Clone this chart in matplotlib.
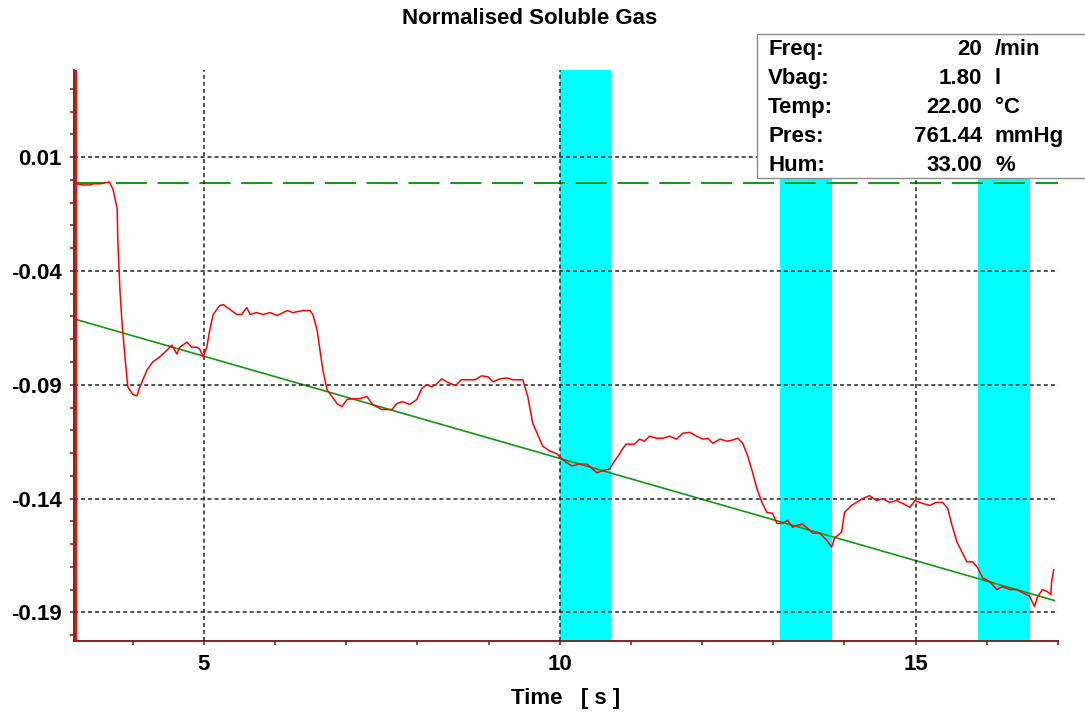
import matplotlib
matplotlib.use("Agg")
import matplotlib.pyplot as plt
from matplotlib.patches import Rectangle
from matplotlib.ticker import FixedLocator, MultipleLocator

plt.rcParams['font.family'] = ['Liberation Sans', 'DejaVu Sans']

# red signal: time [s] and normalised value
sig_t = [3.20, 3.30, 3.40, 3.45, 3.54, 3.60, 3.67, 3.72, 3.78, 3.79,
         3.82, 3.85, 3.89, 3.93, 4.00, 4.06, 4.10, 4.20, 4.28, 4.38,
         4.48, 4.55, 4.62, 4.66, 4.76, 4.83, 4.90, 4.94, 4.99, 5.04,
         5.08, 5.13, 5.22, 5.27, 5.37, 5.46, 5.53, 5.60, 5.65, 5.74,
         5.83, 5.93, 6.03, 6.17, 6.25, 6.39, 6.49, 6.53, 6.59, 6.63,
         6.67, 6.73, 6.80, 6.87, 6.94, 7.01, 7.09, 7.19, 7.29, 7.37,
         7.50, 7.64, 7.71, 7.79, 7.89, 7.99, 8.06, 8.13, 8.20, 8.27,
         8.34, 8.41, 8.53, 8.62, 8.74, 8.81, 8.90, 8.99, 9.06, 9.16,
         9.26, 9.34, 9.48, 9.55, 9.62, 9.68, 9.76, 9.86, 9.96, 10.03,
         10.10, 10.17, 10.28, 10.38, 10.46, 10.52, 10.60, 10.70, 10.77, 10.84,
         10.88, 10.93, 11.05, 11.12, 11.19, 11.26, 11.36, 11.45, 11.54, 11.64,
         11.73, 11.83, 11.92, 12.01, 12.08, 12.15, 12.25, 12.35, 12.43, 12.50,
         12.57, 12.64, 12.71, 12.77, 12.84, 12.91, 12.99, 13.05, 13.13, 13.20,
         13.27, 13.34, 13.41, 13.48, 13.55, 13.65, 13.75, 13.82, 13.86, 13.96,
         14.00, 14.10, 14.17, 14.26, 14.35, 14.45, 14.54, 14.63, 14.73, 14.82,
         14.92, 14.99, 15.10, 15.20, 15.29, 15.38, 15.45, 15.51, 15.58, 15.65,
         15.72, 15.80, 15.87, 15.94, 16.04, 16.14, 16.22, 16.32, 16.42, 16.50,
         16.60, 16.67, 16.71, 16.78, 16.85, 16.90, 16.91, 16.94]
sig_v = [-0.0017, -0.0022, -0.0022, -0.0017, -0.0017, -0.0013, -0.0009, -0.0039, -0.0126, -0.0270,
         -0.0487, -0.0635, -0.0778, -0.0909, -0.0943, -0.0948, -0.0909, -0.0835, -0.0800, -0.0778,
         -0.0748, -0.0726, -0.0765, -0.0735, -0.0713, -0.0735, -0.0735, -0.0743, -0.0778, -0.0735,
         -0.0661, -0.0591, -0.0552, -0.0548, -0.0570, -0.0591, -0.0591, -0.0561, -0.0591, -0.0583,
         -0.0591, -0.0583, -0.0596, -0.0574, -0.0583, -0.0574, -0.0574, -0.0591, -0.0661, -0.0748,
         -0.0835, -0.0922, -0.0952, -0.0983, -0.0996, -0.0965, -0.0961, -0.0961, -0.0952, -0.0987,
         -0.1009, -0.1009, -0.0983, -0.0974, -0.0987, -0.0965, -0.0917, -0.0900, -0.0909, -0.0896,
         -0.0874, -0.0887, -0.0904, -0.0878, -0.0878, -0.0878, -0.0861, -0.0865, -0.0887, -0.0874,
         -0.0870, -0.0878, -0.0878, -0.0952, -0.1070, -0.1113, -0.1170, -0.1191, -0.1204, -0.1226,
         -0.1243, -0.1257, -0.1248, -0.1248, -0.1270, -0.1287, -0.1278, -0.1270, -0.1235, -0.1204,
         -0.1183, -0.1161, -0.1161, -0.1139, -0.1148, -0.1126, -0.1135, -0.1135, -0.1126, -0.1139,
         -0.1113, -0.1109, -0.1126, -0.1139, -0.1135, -0.1157, -0.1139, -0.1148, -0.1143, -0.1135,
         -0.1157, -0.1213, -0.1287, -0.1357, -0.1417, -0.1461, -0.1465, -0.1509, -0.1509, -0.1496,
         -0.1526, -0.1517, -0.1513, -0.1530, -0.1552, -0.1552, -0.1583, -0.1613, -0.1574, -0.1548,
         -0.1461, -0.1430, -0.1417, -0.1400, -0.1387, -0.1409, -0.1400, -0.1417, -0.1409, -0.1422,
         -0.1439, -0.1409, -0.1422, -0.1430, -0.1417, -0.1417, -0.1443, -0.1517, -0.1591, -0.1635,
         -0.1678, -0.1678, -0.1704, -0.1748, -0.1765, -0.1800, -0.1787, -0.1800, -0.1800, -0.1813,
         -0.1830, -0.1874, -0.1835, -0.1800, -0.1809, -0.1822, -0.1765, -0.1713]

# green fitted drift line and baseline level
fit_t = [3.20, 16.95]
fit_v = [-0.0613, -0.1848]
baseline = -0.0014

# cyan marked intervals
bar_start = [10.00, 13.10, 15.88]
bar_end = [10.72, 13.83, 16.61]

yticks = [0.01, -0.04, -0.09, -0.14, -0.19]
xticks = [5, 10, 15]

info_labels = ["Freq:", "Vbag:", "Temp:", "Pres:", "Hum:"]
info_values = ["20", "1.80", "22.00", "761.44", "33.00"]
info_units = ["/min", "l", "°C", "mmHg", "%"]

W, H = 1085, 713
fig = plt.figure(figsize=(W / 100, H / 100), dpi=100)
ax = fig.add_axes([74 / W, 1 - 641 / H, (1058 - 74) / W, (641 - 70) / H])

axis_col = "#8b2020"

for s, e in zip(bar_start, bar_end):
    ax.axvspan(s, e, color="#00ffff", lw=0, zorder=0.5)

ax.axhline(baseline, color="#129612", lw=1.4, dashes=(16, 5.5), zorder=2)
ax.plot(fit_t, fit_v, color="#129612", lw=1.2, zorder=2)
ax.plot(sig_t, sig_v, color="red", lw=1.1, zorder=3)
ax.axvline(sig_t[0], color="red", lw=1.4, zorder=3)

ax.set_xlim(3.174, 17.0)
ax.set_ylim(-0.2026, 0.0483)

ax.xaxis.set_major_locator(FixedLocator(xticks))
ax.xaxis.set_minor_locator(MultipleLocator(1))
ax.yaxis.set_major_locator(FixedLocator(yticks))
ax.yaxis.set_minor_locator(MultipleLocator(0.01))
ax.set_yticklabels(["%.2f" % v for v in yticks])

for side in ["top", "right"]:
    ax.spines[side].set_visible(False)
for side in ["left", "bottom"]:
    ax.spines[side].set_color(axis_col)
    ax.spines[side].set_linewidth(1.4)

ax.tick_params(which="both", direction="out", length=3, width=1.2, color=axis_col)
ax.tick_params(axis="both", which="major", labelsize=16, pad=6)
for lab in ax.get_xticklabels() + ax.get_yticklabels():
    lab.set_fontweight("bold")

ax.grid(True, which="major", color="#222222", linestyle=(0, (2.6, 2.0)), linewidth=1.1, zorder=1)
ax.set_axisbelow(False)

ax.set_xlabel("Time   [ s ]", fontsize=16, fontweight="bold", labelpad=10)
fig.text(530 / W, 1 - 18 / H, "Normalised Soluble Gas", ha="center", va="center",
         fontsize=16, fontweight="bold")

# info box
fig.patches.append(Rectangle((757 / W, 1 - 178 / H), (1095 - 757) / W, (178 - 34) / H,
                             transform=fig.transFigure, facecolor="white",
                             edgecolor="#8c8c8c", lw=1.0, zorder=5))
for i in range(len(info_labels)):
    yy = 1 - (49.5 + i * 29.1) / H
    fig.text(768 / W, yy, info_labels[i], ha="left", va="center", fontsize=16,
             fontweight="bold", zorder=6)
    fig.text(982 / W, yy, info_values[i], ha="right", va="center", fontsize=16,
             fontweight="bold", zorder=6)
    fig.text(995 / W, yy, info_units[i], ha="left", va="center", fontsize=16,
             fontweight="bold", zorder=6)

plt.savefig("out.png", dpi=100)
